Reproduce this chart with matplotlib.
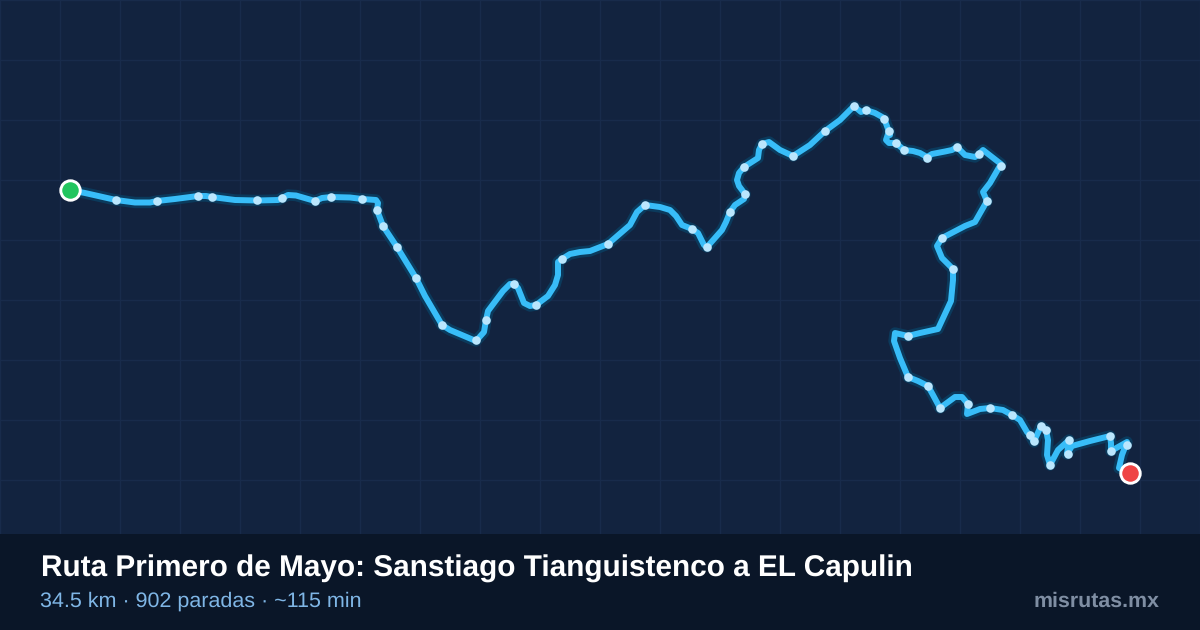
import matplotlib
matplotlib.use('Agg')
import matplotlib.pyplot as plt

# route, in picture pixels
route_x = [70, 85, 116, 135, 150, 157, 175, 198, 206, 212, 235, 257, 278, 282, 288, 296, 315, 322, 331, 350, 362, 376, 378,
           377, 383, 397, 416, 425, 442, 450, 476, 484, 486, 488, 503, 510, 514, 518, 524, 530, 536, 548, 555, 558, 558,
           562, 570, 580, 590, 608, 630, 637, 645, 660, 670, 676, 682, 692, 698, 704, 707, 722, 726, 730, 735, 744, 745,
           739, 737, 739, 744, 758, 759, 762, 769, 780, 793, 810, 825, 840, 848, 854, 861, 866, 875, 884, 888, 890, 889, 886,
           889, 896, 904, 913, 920, 927, 932, 945, 952, 957, 965, 975, 979, 983, 1001, 990, 983, 987, 975, 965, 942,
           937, 942, 953, 953, 951, 938, 920, 908, 895, 894, 900, 908, 918, 928, 933, 940, 955, 962, 968, 967, 980,
           990, 1003, 1012, 1020, 1027, 1030, 1034, 1036, 1041, 1046, 1048, 1047, 1050, 1058, 1069, 1067, 1072, 1090,
           1110, 1111, 1111, 1127, 1122, 1119, 1130]
route_y = [190, 193, 200, 202.5, 202.5, 201, 199, 196, 196, 197, 200, 200.5, 200, 198, 195, 195.5, 201, 198, 197, 197.5, 199, 200, 203,
           210, 226, 247, 278, 296, 325, 330, 341, 332, 320, 311, 291, 284, 284, 288, 303, 306, 305, 296, 285, 275, 262,
           259, 254, 252, 251, 244, 225, 212, 205, 207, 210, 216, 225, 229, 233, 245, 247, 230, 222, 212, 205, 199, 194,
           186, 180, 173, 167, 158, 150, 144, 142, 150, 156, 145, 131, 120, 112, 106, 112, 110, 113, 118, 129, 135, 131, 140,
           143, 143, 150, 151, 153, 157, 154, 151.5, 150, 147, 155, 157, 154, 150, 164, 183, 192, 201, 222, 226, 238,
           246, 258, 269, 280, 301, 329, 333, 336, 333, 341, 358, 377, 381, 386, 395, 408, 397, 397, 404, 414, 409,
           408, 410, 415, 420, 432, 435, 442, 437, 426, 430, 440, 455, 465, 450, 440, 454, 446, 441,
           436, 443, 451, 442, 455, 468, 473]

stop_x = [116, 157, 198, 212, 257, 282, 315, 331, 362, 377, 383, 397, 416, 442, 476, 486, 514, 536, 562, 608, 645,
          692, 707, 730, 745, 744, 762, 793, 825, 854, 866, 884, 889, 896, 904, 927, 957, 979, 1001, 987, 942, 953,
          908, 908, 928, 940, 968, 990, 1012, 1030, 1034, 1041, 1046, 1050, 1069, 1068, 1110, 1111, 1127]
stop_y = [200, 201, 196, 197, 200, 198, 201, 197, 199, 210, 226, 247, 278, 325, 340, 320, 284, 305, 259, 244, 205,
          229, 247, 212, 194, 167, 144, 156, 131, 106, 110, 119, 131, 143, 150, 158, 147, 154, 166, 201, 238, 269,
          336, 377, 386, 408, 404, 408, 415, 435, 441, 426, 430, 465, 440, 454, 436, 451, 445]

grid_x = list(range(0, 1201, 60))
grid_y = list(range(0, 541, 60))

title = 'Ruta Primero de Mayo: Sanstiago Tianguistenco a EL Capulin'
subtitle = '34.5 km · 902 paradas · ~115 min'
brand = 'misrutas.mx'

plt.rcParams['font.family'] = ['Liberation Sans', 'DejaVu Sans']
plt.rcParams['text.hinting'] = 'no_hinting'
plt.rcParams['text.hinting_factor'] = 8

fig = plt.figure(figsize=(12, 6.3), dpi=100, facecolor='#12233f')
ax = fig.add_axes([0, 0, 1, 1], facecolor='#12233f')
ax.set_xlim(0, 1200)
ax.set_ylim(630, 0)
ax.set_xticks(grid_x)
ax.set_yticks(grid_y)
ax.grid(True, color='#182b4b', linewidth=1.0)
ax.tick_params(length=0, labelbottom=False, labelleft=False)
ax.set_axisbelow(True)
for s in ax.spines.values():
    s.set_visible(False)

# line with dark halo under it
ax.plot(route_x, route_y, color='#0b3a5c', linewidth=8.2, solid_joinstyle='round', solid_capstyle='round', zorder=2)
ax.plot(route_x, route_y, color='#38bdf8', linewidth=4.3, solid_joinstyle='round', solid_capstyle='round', zorder=3)
ax.plot(stop_x, stop_y, 'o', color='#bae6fd', markersize=6.2, markeredgewidth=0, linestyle='none', zorder=4)

ax.plot(route_x[0], route_y[0], 'o', color='#22c55e', markeredgecolor='white', markeredgewidth=2.1, markersize=14, zorder=5)
ax.plot(route_x[-1], route_y[-1], 'o', color='#ef4444', markeredgecolor='white', markeredgewidth=2.1, markersize=14, zorder=5)

ax.axhspan(534, 630, color='#0a1628', linewidth=0, zorder=6)
# sizes a bit over nominal, the original text is letter spaced
ax.text(41, 577, title, color='white', fontsize=21.45, fontweight='bold', va='baseline', ha='left', zorder=7)
ax.text(40, 607, subtitle, color='#7fb6e6', fontsize=15.45, va='baseline', ha='left', zorder=7)
ax.text(1160, 607, brand, color='#7f8ea3', fontsize=15.4, fontweight='bold', va='baseline', ha='right', zorder=7)

fig.savefig('out.png', dpi=100, facecolor=fig.get_facecolor())
